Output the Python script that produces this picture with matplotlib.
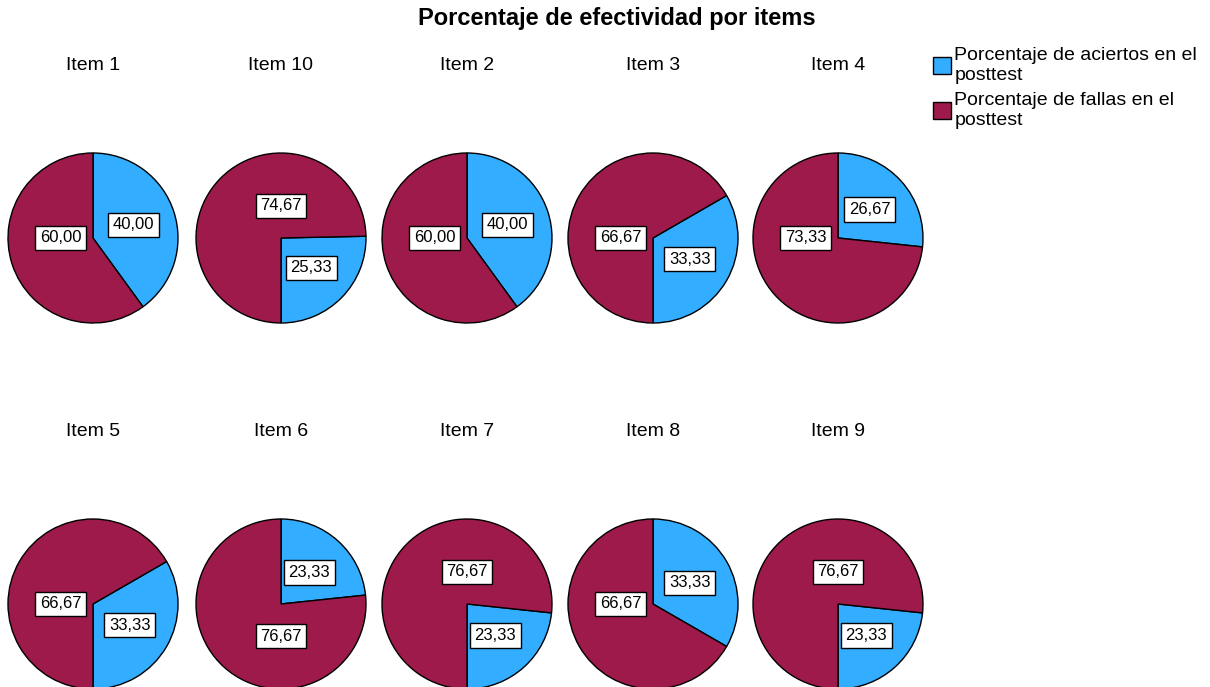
import numpy as np
import matplotlib.pyplot as plt
from matplotlib.patches import Patch

plt.rcParams['font.family'] = ['Liberation Sans', 'DejaVu Sans']

items = ["Item 1", "Item 10", "Item 2", "Item 3", "Item 4",
         "Item 5", "Item 6", "Item 7", "Item 8", "Item 9"]
aciertos = [40.00, 25.33, 40.00, 33.33, 26.67, 33.33, 23.33, 23.33, 33.33, 23.33]
fallas = [60.00, 74.67, 60.00, 66.67, 73.33, 66.67, 76.67, 76.67, 66.67, 76.67]
# True: the aciertos slice starts at 12 o'clock going clockwise,
# False: it starts at 6 o'clock going counterclockwise
from_top = [True, False, True, False, True, False, True, False, True, False]

series_names = ["Porcentaje de aciertos en el\nposttest",
                "Porcentaje de fallas en el\nposttest"]
colors = ['#33adff', '#9d1a4b']

W, H = 1210, 687
fig = plt.figure(figsize=(W / 100, H / 100), dpi=100)

fig.text(617 / W, 1 - 19 / H, "Porcentaje de efectividad por items",
         ha='center', va='center', fontsize=17, fontweight='bold')

R = 85
box = 100
xs = [93, 281, 467, 653, 838]
ys = [238, 604]
title_off = 173

for k, name in enumerate(items):
    cx = xs[k % 5]
    cy = ys[k // 5]
    ax = fig.add_axes([(cx - box) / W, 1 - (cy + box) / H, 2 * box / W, 2 * box / H])
    vals = [aciertos[k], fallas[k]]
    if from_top[k]:
        start, ccw = 90, False
    else:
        start, ccw = 270, True
    ax.pie(vals, colors=colors, startangle=start, counterclock=ccw, radius=1,
           wedgeprops=dict(edgecolor='black', linewidth=1))
    ax.set_xlim(-box / R, box / R)
    ax.set_ylim(-box / R, box / R)
    ax.axis('off')
    # label angles
    sign = 1 if ccw else -1
    span_a = vals[0] / 100 * 360
    mid_a = start + sign * span_a / 2
    mid_f = mid_a + 180
    # larger slice labels sit on the nearest axis direction
    mid_f = 90 * np.round(((mid_f % 360) - 1) / 90)
    for val, ang, dist in [(vals[0], mid_a, 0.5), (vals[1], mid_f, 0.38)]:
        t = np.deg2rad(ang)
        ax.text(dist * np.cos(t), dist * np.sin(t), f"{val:.2f}".replace('.', ','),
                ha='center', va='center', fontsize=12,
                bbox=dict(boxstyle='square,pad=0.28', facecolor='white',
                          edgecolor='black', linewidth=1))
    fig.text(cx / W, 1 - (cy - title_off) / H, name, ha='center', va='center',
             fontsize=14)

handles = [Patch(facecolor=c, edgecolor='black', linewidth=1) for c in colors]
fig.legend(handles, series_names, loc='upper left',
           bbox_to_anchor=(933 / W, 1 - 47 / H), frameon=False, fontsize=14,
           handlelength=0.95, handleheight=0.95, handletextpad=0.15,
           labelspacing=0.45, borderpad=0, borderaxespad=0)

plt.savefig("out.png", dpi=100)
